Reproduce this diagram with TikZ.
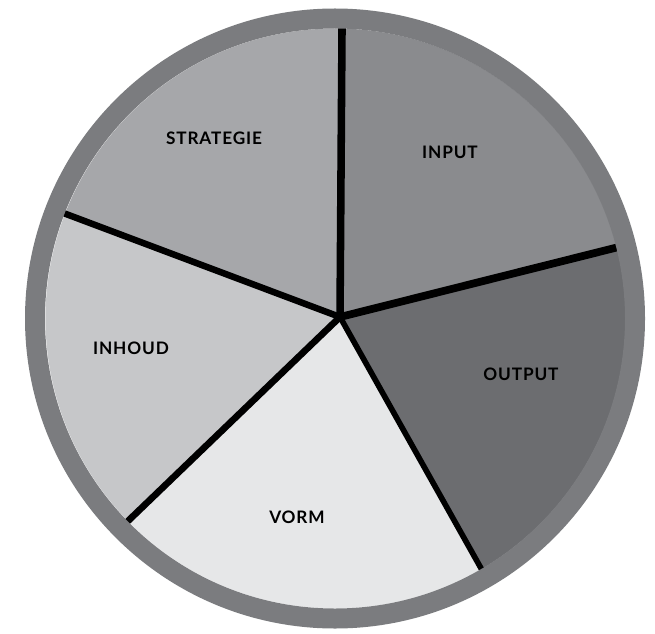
\documentclass[tikz,border=0pt]{standalone}
\usepackage{fontspec}
\setmainfont{Lato}
\definecolor{ringgray}{HTML}{7B7C7F}
\definecolor{inputgray}{HTML}{8A8B8E}
\definecolor{strategiegray}{HTML}{A6A7AA}
\definecolor{inhoudgray}{HTML}{C6C7C9}
\definecolor{vormgray}{HTML}{E6E7E8}
\definecolor{outputgray}{HTML}{6C6D70}
\begin{document}
\begin{tikzpicture}[
	x=0.02cm, y=0.02cm,
	spoke/.style={line cap=round},
	seglabel/.style={font=\bfseries\fontsize{9.8}{11}\selectfont\addfontfeatures{LetterSpace=5}}
]
\useasboundingbox (0,0) rectangle (655,633);
\coordinate (hub) at (340,316);
\coordinate (mid) at (335.5,314.5);

% sectors
\begin{scope}
	\clip (mid) circle[radius=290];
	\foreach \a/\b/\c in {14.1/89.6/inputgray, 89.6/159.4/strategiegray, 159.4/223.9/inhoudgray, 223.9/299.3/vormgray, 299.3/374.1/outputgray}
		\fill[\c] (hub) -- ++(\a:500) arc[start angle=\a, end angle=\b, radius=500] -- cycle;
\end{scope}

% dividers
\foreach \a/\w in {89.6/4.3pt, 14.1/4.4pt, 159.4/3.7pt, 223.9/3.8pt, 299.3/3.2pt}
	\draw[spoke, line width=\w] (hub) -- ++(\a:300);

% rim
\fill[ringgray, even odd rule] (335,314.5) circle[radius=310] (335,314.5) circle[radius=290];

\node[seglabel] (strategie) at (214,495) {STRATEGIE};
\node[seglabel] (input) at (450,481) {INPUT};
\node[seglabel] (inhoud) at (131,285) {INHOUD};
\node[seglabel] (output) at (521,259) {OUTPUT};
\node[seglabel] (vorm) at (297,116) {VORM};
\end{tikzpicture}
\end{document}
